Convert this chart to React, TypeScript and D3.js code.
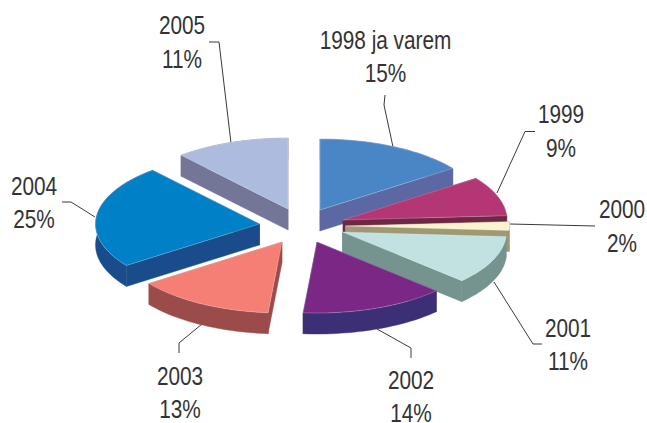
import React from "react";
import * as d3 from "d3";

// Slice categories and printed labels
const categories = ["1998 ja varem", "1999", "2000", "2001", "2002", "2003", "2004", "2005"];
const printedLabels = ["15%", "9%", "2%", "11%", "14%", "13%", "25%", "11%"];
// Share of the circle each slice actually takes in the picture (estimated)
const shares = [15, 9, 2, 11, 14.3, 13.7, 23.6, 11.3];

// Colours
const topColors = ["#4a86c5", "#b53674", "#fbf3cd", "#c1e2e0", "#7a2786", "#f57f74", "#0080c6", "#adbcde"];
const wallColors = ["#5b68a3", "#6f2746", "#a09873", "#75938f", "#3c2f75", "#9b4b4a", "#1a4c8c", "#747698"];

// Layout: apex of each exploded slice, label anchors and leader lines
const apexes: [number, number][] = [[320, 210], [343, 220], [345.5, 226], [342.5, 232], [317, 242], [282, 242], [259.5, 224], [288, 209]];
const labelPos: [number, number, number][] = [[385.5, 49, 82], [561, 123, 157], [622, 218, 252], [568, 337, 370], [411, 389, 421.5], [180, 385, 418], [34, 195, 228], [182, 34, 68]];
const leaders: [number, number][][] = [
  [[393, 147], [384, 105], [385, 95]],
  [[497, 193], [525, 131.5], [535, 131.5]],
  [[510, 224], [595, 226]],
  [[494, 282], [533, 344], [542, 344]],
  [[377, 329], [411, 348], [411, 358]],
  [[202, 324], [179, 343], [179, 353]],
  [[95, 217], [71, 202], [62, 202]],
  [[209, 42], [219, 42], [231, 143]],
];
const drawOrder = [0, 7, 6, 1, 2, 3, 5, 4];

const RX = 164;
const RY = 71;
const DEPTH = 21;
const FONT = "'Liberation Sans', Arial, sans-serif";
const TEXT_SQUEEZE = 0.8;

export default function App() {
  const arcs = d3.pie<number>().sort(null)(shares);
  const line = d3.line<[number, number]>();
  const sx = d3.scaleLinear().domain([-1, 1]).range([-RX, RX]);
  const sy = d3.scaleLinear().domain([-1, 1]).range([-RY, RY]);

  const rim = (a0: number, a1: number, ox: number, oy: number): [number, number][] => {
    const n = Math.max(2, Math.ceil(((a1 - a0) * 180) / Math.PI / 2));
    return d3.range(n + 1).map((i) => {
      const a = a0 + ((a1 - a0) * i) / n;
      return [ox + sx(Math.sin(a)), oy + sy(-Math.cos(a))] as [number, number];
    });
  };

  return (
    <svg
      width={647}
      height={423}
      style={{ position: "absolute", left: 0, top: 0, background: "#fff" }}
    >
      {leaders.map((pts, i) => (
        <path key={i} d={line(pts) ?? ""} fill="none" stroke="#3a3a3a" strokeWidth={1} />
      ))}
      {drawOrder.map((i) => {
        const a = arcs[i];
        const [ox, oy] = apexes[i];
        const top = rim(a.startAngle, a.endAngle, ox, oy);
        const low = rim(a.startAngle, a.endAngle, ox, oy + DEPTH);
        const first = top[0];
        const last = top[top.length - 1];
        const wallPaths = [
          [[ox, oy], first, [first[0], first[1] + DEPTH], [ox, oy + DEPTH]],
          [[ox, oy], last, [last[0], last[1] + DEPTH], [ox, oy + DEPTH]],
          [...top, ...low.slice().reverse()],
        ] as [number, number][][];
        return (
          <g key={i}>
            {wallPaths.map((w, j) => (
              <path key={j} d={(line(w) ?? "") + "Z"} fill={wallColors[i]} stroke={wallColors[i]} strokeWidth={0.4} />
            ))}
            <path
              d={(line([[ox, oy], ...top]) ?? "") + "Z"}
              fill={topColors[i]}
              stroke="#ffffff"
              strokeOpacity={0.4}
              strokeWidth={0.6}
            />
          </g>
        );
      })}
      <g fontFamily={FONT} fontSize={26} fill="#333333" textAnchor="middle">
        {categories.map((c, i) => (
          <g key={c}>
            <text transform={`translate(${labelPos[i][0]},${labelPos[i][1]}) scale(${TEXT_SQUEEZE},1)`}>{c}</text>
            <text transform={`translate(${labelPos[i][0]},${labelPos[i][2]}) scale(${TEXT_SQUEEZE},1)`}>{printedLabels[i]}</text>
          </g>
        ))}
      </g>
    </svg>
  );
}
